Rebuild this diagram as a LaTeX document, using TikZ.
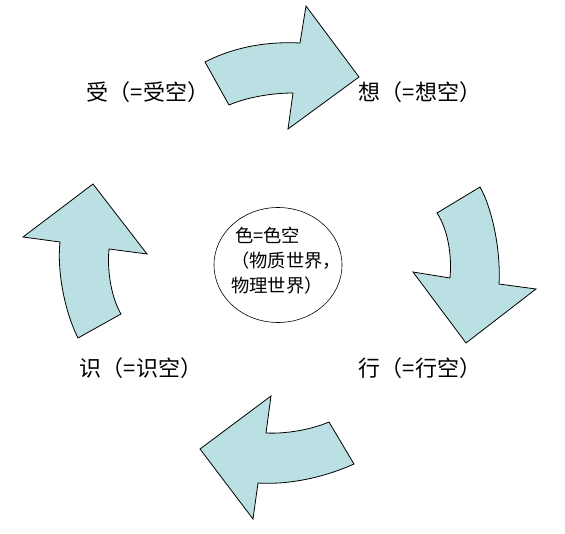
\documentclass[tikz,border=0pt]{standalone}
\usepackage{fontspec}
\usetikzlibrary{shapes.geometric}
\newfontfamily\cjk{Noto Sans CJK SC}
\definecolor{arrowfill}{RGB}{187,224,227}
\tikzset{
  bigarrow/.style={draw=black, line width=0.8pt, fill=arrowfill, line join=miter},
  label/.style={font=\cjk\fontsize{22}{26}\selectfont, inner sep=0pt},
  centertext/.style={font=\cjk\fontsize{18.3}{25}\selectfont, inner sep=0pt, align=left}
}
\begin{document}
\begin{tikzpicture}[x=1pt,y=-1pt]
\useasboundingbox (0,0) rectangle (565,533);
% top arrow
\draw[bigarrow] (205,62) .. controls (228,50) and (260,41) .. (300,43)
  -- (306,6) -- (359,77) -- (288,129) -- (293,93)
  .. controls (270,93) and (245,98) .. (229,105) -- cycle;
% right arrow
\draw[bigarrow] (437,213) -- (480,187)
  .. controls (492,208) and (501,250) .. (499,284)
  -- (536,289) -- (466,343) -- (413,272) -- (450,278)
  .. controls (452,255) and (448,230) .. (437,213) -- cycle;
% bottom arrow
\draw[bigarrow] (329,422) -- (354,464)
  .. controls (325,477) and (290,485) .. (258,483)
  -- (253,519) -- (200,449) -- (271,396) -- (266,433)
  .. controls (285,434) and (310,430) .. (329,422) -- cycle;
% left arrow
\draw[bigarrow] (78,338) -- (121,314)
  .. controls (111,297) and (107,270) .. (109,249)
  -- (147,254) -- (93,184) -- (23,237) -- (60,242)
  .. controls (57,270) and (64,310) .. (78,338) -- cycle;
% center ellipse
\node[draw=black, line width=0.6pt, ellipse, minimum width=128pt, minimum height=115pt, inner sep=0pt] (center) at (278,265) {};
\node[centertext, anchor=west] (ctext) at (231,261) {\hspace{4pt}色=色空\\（物质世界，\\物理世界）};
% labels
\node[label] (shou) at (148,92) {受（=受空）};
\node[label] (xiang) at (420,92) {想（=想空）};
\node[label] (shi) at (141,368) {识（=识空）};
\node[label] (xing) at (420,368) {行（=行空）};
\end{tikzpicture}
\end{document}
